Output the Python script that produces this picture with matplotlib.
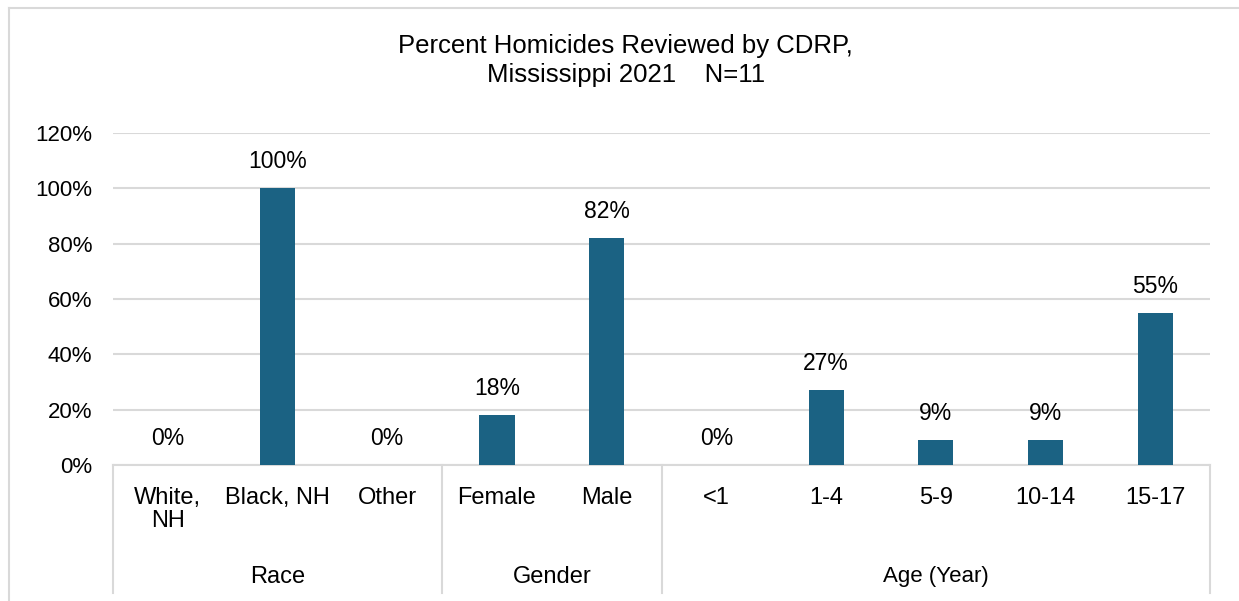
import matplotlib.pyplot as plt
import matplotlib.transforms as mtransforms
from matplotlib.lines import Line2D

plt.rcParams['font.family'] = ['Liberation Sans', 'DejaVu Sans']

# data
categories = ["White,\nNH", "Black, NH", "Other", "Female", "Male",
              "<1", "1-4", "5-9", "10-14", "15-17"]
values = [0, 100, 0, 18, 82, 0, 27, 9, 9, 55]
value_labels = ["0%", "100%", "0%", "18%", "82%", "0%", "27%", "9%", "9%", "55%"]
groups = ["Race", "Gender", "Age (Year)"]
group_sizes = [3, 2, 5]

bar_color = "#1b6283"
grid_color = "#d9d9d9"

fig = plt.figure(figsize=(12.39, 6.01), dpi=100)
ax = fig.add_axes([0.0912, 0.2263, 0.8854, 0.5524])

x = list(range(len(categories)))
ax.bar(x, values, width=0.32, color=bar_color, zorder=3)

for xi, v, lab in zip(x, values, value_labels):
    ax.annotate(lab, (xi, v), xytext=(0, 11), textcoords="offset points",
                ha="center", va="bottom", fontsize=16.5)

ax.set_xlim(-0.5, len(categories) - 0.5)
ax.set_ylim(0, 120)
ax.set_yticks(range(0, 121, 20))
ax.set_yticklabels([f"{t}%" for t in range(0, 121, 20)], fontsize=16)
ax.set_xticks(x)
ax.set_xticklabels(categories, fontsize=17, linespacing=1.05)
ax.tick_params(axis="both", length=0)
ax.tick_params(axis="x", pad=16)
ax.tick_params(axis="y", pad=15)
ax.grid(axis="y", color=grid_color, linewidth=1.5, zorder=0)
for s in ["top", "right", "left"]:
    ax.spines[s].set_visible(False)
ax.spines["bottom"].set_color(grid_color)
ax.spines["bottom"].set_linewidth(1.5)

# group separators and labels below the axis
trans = mtransforms.blended_transform_factory(ax.transData, ax.transAxes)
bounds = [-0.5]
for n in group_sizes:
    bounds.append(bounds[-1] + n)
for b in bounds:
    ax.plot([b, b], [0, -0.385], transform=trans, color=grid_color,
            linewidth=1.5, clip_on=False)
for g, lo, hi in zip(groups, bounds[:-1], bounds[1:]):
    fs = 16 if g.startswith("Age") else 17
    ax.text((lo + hi) / 2, -0.337, g, transform=trans, ha="center", va="center",
            fontsize=fs)

fig.suptitle("Percent Homicides Reviewed by CDRP,\nMississippi 2021    N=11",
             x=0.505, y=0.944, fontsize=18.5, linespacing=1.3)

# outer chart border (top and left visible)
fig.add_artist(Line2D([0.0073, 1.0], [0.9867, 0.9867], transform=fig.transFigure,
                      color=grid_color, linewidth=1.5))
fig.add_artist(Line2D([0.0073, 0.0073], [0.0, 0.9867], transform=fig.transFigure,
                      color=grid_color, linewidth=1.5))

fig.savefig("out.png", dpi=100)
